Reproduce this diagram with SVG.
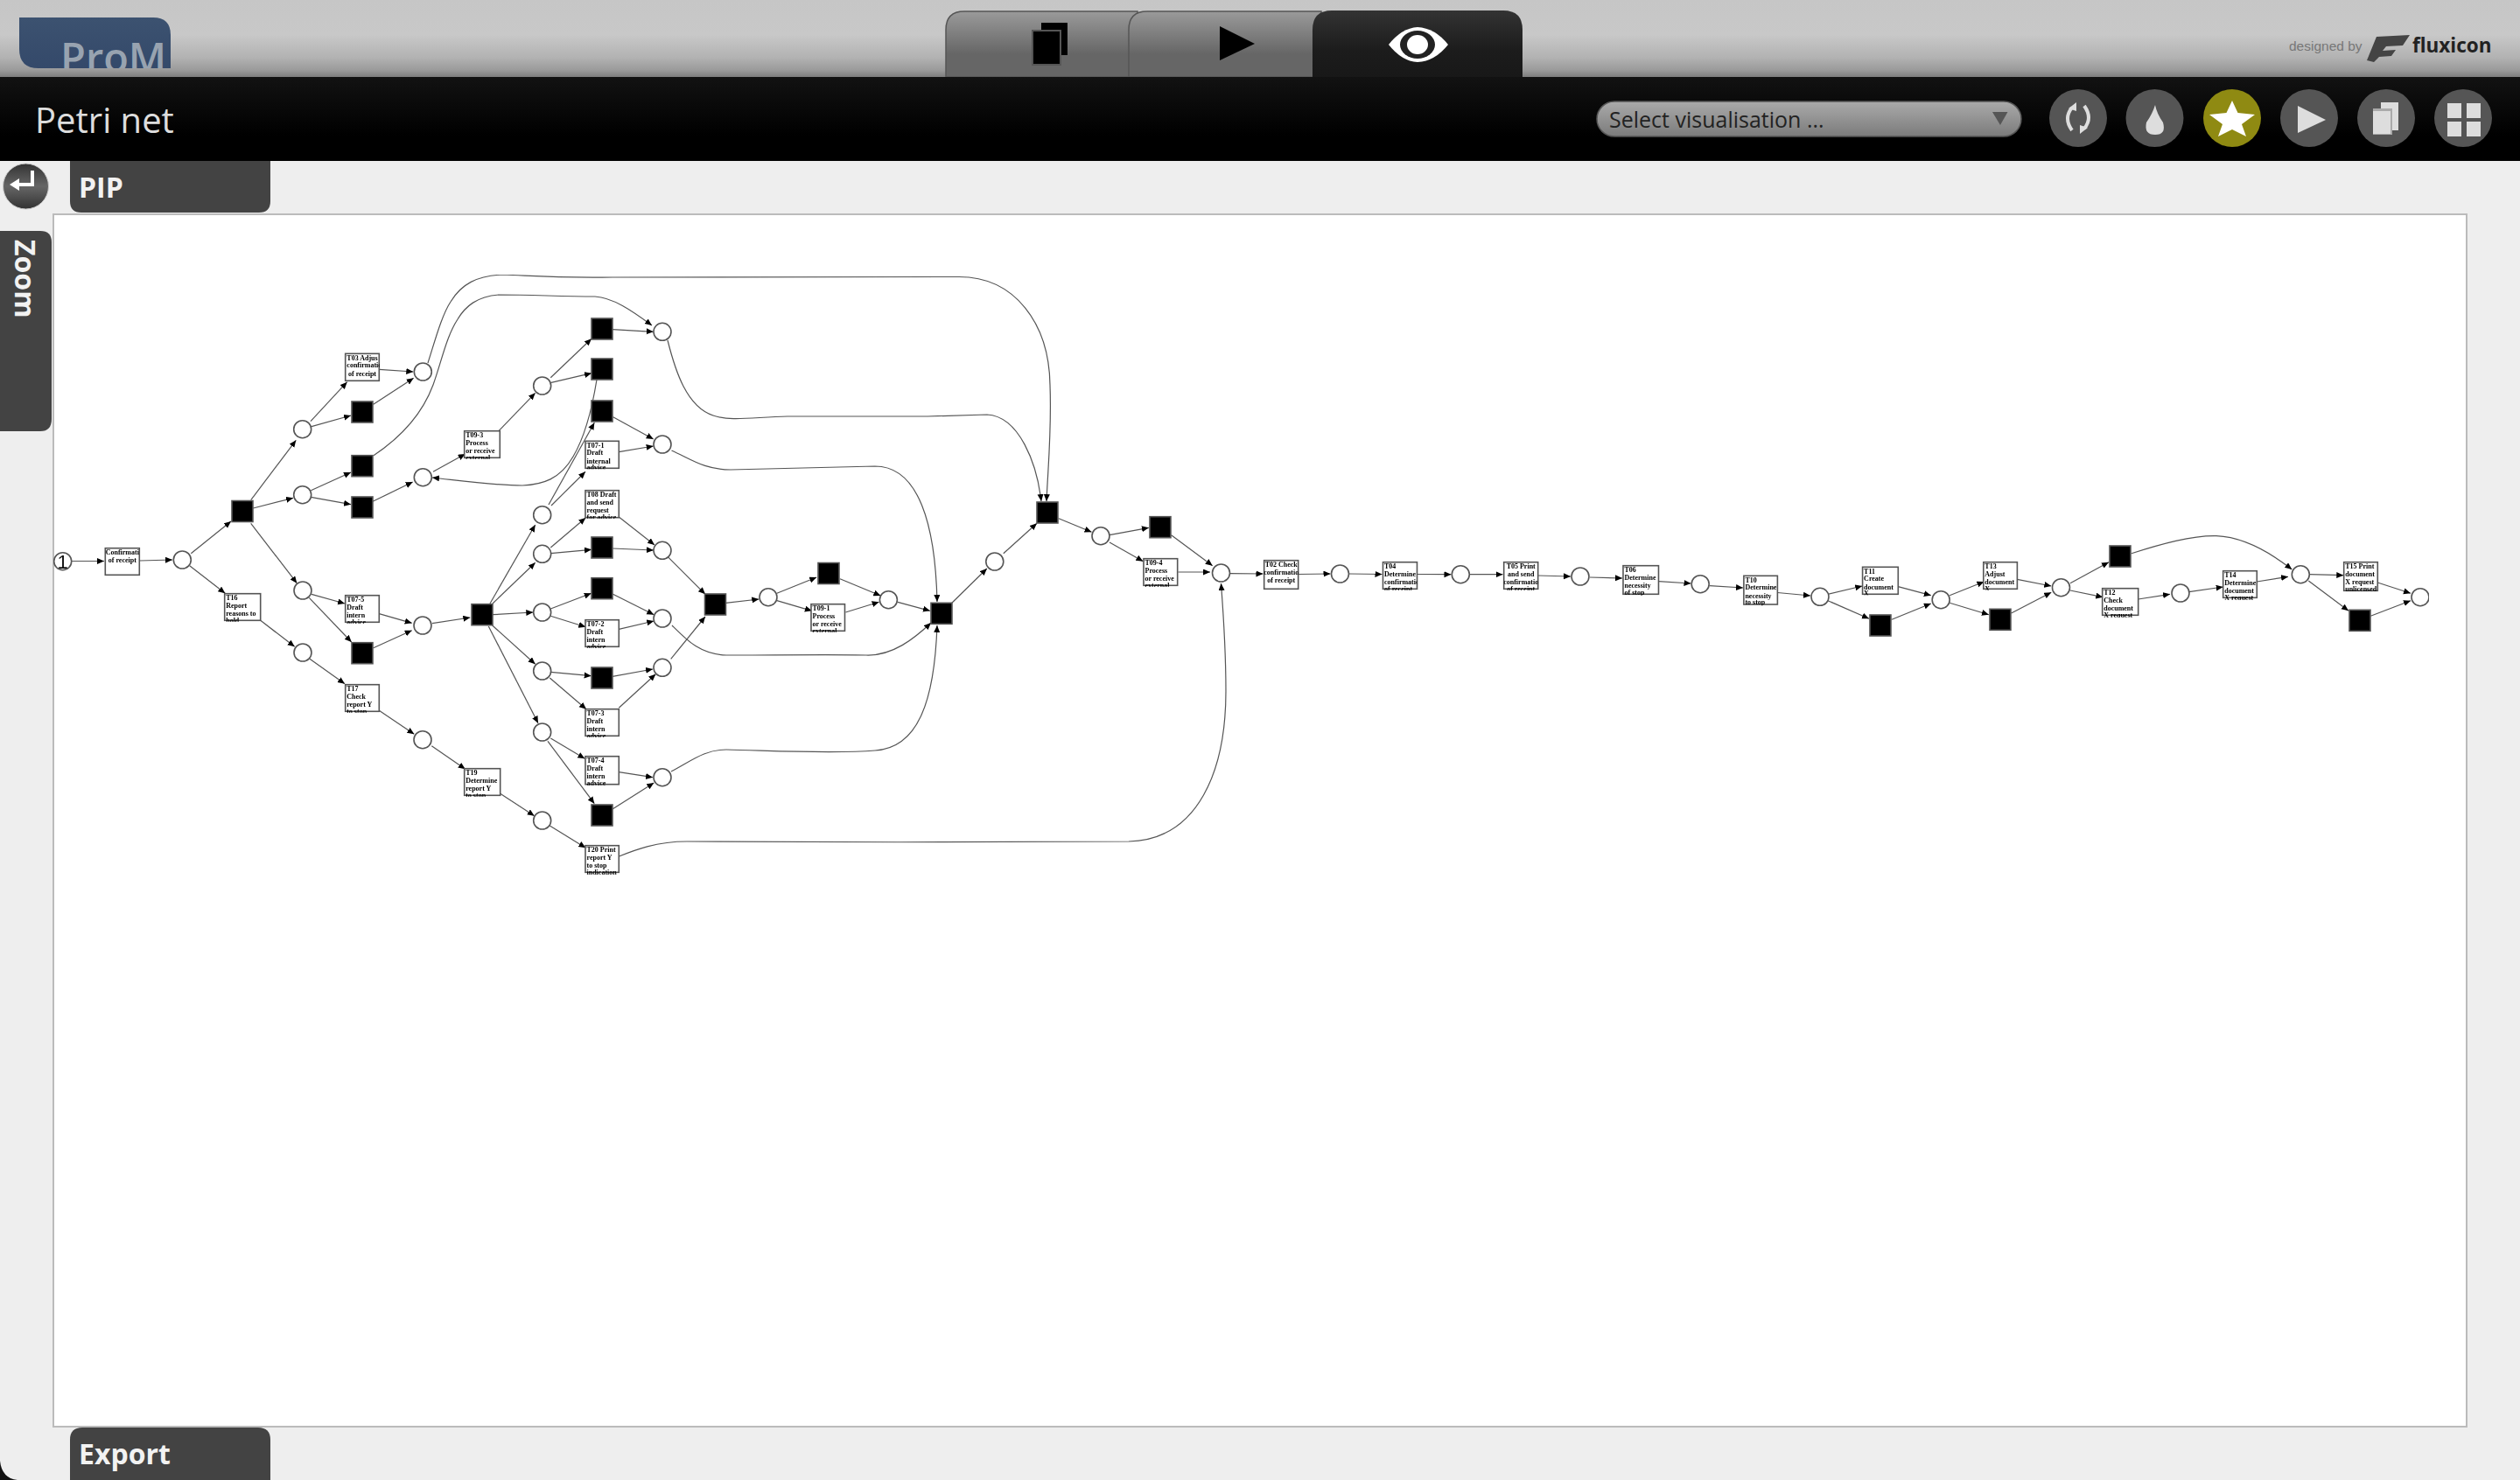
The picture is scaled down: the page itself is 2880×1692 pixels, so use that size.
<svg xmlns="http://www.w3.org/2000/svg" width="2880" height="1692" viewBox="0 0 2880 1692">
<style>
.ui{font-family:"Open Sans","Liberation Sans",sans-serif}
.tabt{font-size:32px;font-weight:700;fill:#f2f2f2}
.btn{fill:#555}
.ic{fill:#ddd}
.p{fill:#fff;stroke:#555;stroke-width:1.6}
.t{fill:#000;stroke:#555;stroke-width:1.6}
.b{fill:#fff;stroke:#555;stroke-width:1.6}
.e{fill:none;stroke:#555;stroke-width:1.2;marker-end:url(#ah)}
.l{font-family:"Liberation Serif",serif;font-size:8px;font-weight:700;fill:#000}
.c{text-anchor:middle}
</style>
<defs>
<marker id="ah" markerUnits="userSpaceOnUse" markerWidth="9" markerHeight="8" refX="8" refY="3.5" orient="auto" viewBox="0 0 9 8"><path d="M0,0 L8,3.5 L0,7 z" fill="#000"/></marker>
<linearGradient id="hd" x1="0" y1="0" x2="0" y2="1"><stop offset="0" stop-color="#c6c6c6"/><stop offset=".45" stop-color="#c8c8c8"/><stop offset=".75" stop-color="#b2b2b2"/><stop offset=".92" stop-color="#999"/><stop offset="1" stop-color="#7e7e7e"/></linearGradient>
<linearGradient id="bar" x1="0" y1="0" x2="0" y2="1"><stop offset="0" stop-color="#121212"/><stop offset=".7" stop-color="#000"/></linearGradient>
<linearGradient id="tabg" x1="0" y1="0" x2="0" y2="1"><stop offset="0" stop-color="#9a9a9a"/><stop offset=".65" stop-color="#666"/><stop offset="1" stop-color="#666"/></linearGradient>
<linearGradient id="tabd" x1="0" y1="0" x2="0" y2="1"><stop offset="0" stop-color="#333"/><stop offset=".6" stop-color="#1c1c1c"/><stop offset="1" stop-color="#181818"/></linearGradient>
<linearGradient id="sel" x1="0" y1="0" x2="0" y2="1"><stop offset="0" stop-color="#aaa"/><stop offset="1" stop-color="#7b7b7b"/></linearGradient>
<linearGradient id="ret" x1="0" y1="0" x2="0" y2="1"><stop offset="0" stop-color="#333"/><stop offset=".5" stop-color="#666"/><stop offset="1" stop-color="#333"/></linearGradient>
<linearGradient id="pm" x1="0" y1="0" x2="0" y2="1"><stop offset="0" stop-color="#3c5270"/><stop offset="1" stop-color="#34496a"/></linearGradient>
<clipPath id="pmc"><path d="M22,20 H175 Q195,20 195,40 V78 H44 Q22,78 22,56 z"/></clipPath>
<filter id="soft" x="0" y="0" width="1" height="1"><feGaussianBlur stdDeviation="0.35"/></filter>
</defs>

<rect width="2880" height="1692" fill="#eee"/>
<path d="M0,1670 Q2,1690 20,1692 H0 z" fill="#111"/>
<rect width="2880" height="88" fill="url(#hd)"/>
<g id="prom-logo"><path d="M22,20 H175 Q195,20 195,40 V78 H44 Q22,78 22,56 z" fill="url(#pm)"/>
<text class="ui" x="69" y="83" font-size="47" font-weight="600" fill="#98a3b0" clip-path="url(#pmc)">ProM</text></g>

<g id="main-tabs">
<path d="M1081,88 V34 Q1081,13 1102,13 H1300 V88 z" fill="url(#tabg)" stroke="#555" stroke-width="1.5"/>
<path d="M1290,88 V34 Q1290,13 1311,13 H1510 V88 z" fill="url(#tabg)" stroke="#555" stroke-width="1.5"/>
<path d="M1500,88 V34 Q1500,12 1522,12 H1718 Q1740,12 1740,34 V88 z" fill="url(#tabd)"/>
<rect x="1190" y="26" width="30" height="37" fill="#000"/>
<rect x="1180" y="35" width="32" height="39" fill="#000" stroke="#555" stroke-width="2"/>
<path d="M1394,30 L1434,50 L1394,69 z" fill="#000"/>
<path d="M1587,51 Q1602,32 1620,31 Q1640,32 1655,51 Q1640,70 1620,71 Q1602,70 1587,51 z" fill="#fff"/>
<ellipse cx="1620" cy="51" rx="20" ry="16" fill="#222"/>
<ellipse cx="1620" cy="51" rx="12" ry="11" fill="#fff"/>
</g>

<g id="fluxicon">
<text x="2616" y="58" font-family="Liberation Sans,sans-serif" font-size="15.500" fill="#777">designed by</text>
<path d="M2716,42 L2754,40 L2746,52 L2727,53 L2723,58 L2738,57 L2733,64 L2719,65 L2713,71 L2705,69 z" fill="#444"/>
<text x="2757" y="60" font-family="Open Sans,sans-serif" font-size="22.500" font-weight="700" fill="#222">fluxicon</text>
</g>

<rect y="88" width="2880" height="96" fill="url(#bar)"/>
<text class="ui" x="40" y="152" font-size="40" fill="#ddd">Petri net</text>

<g id="select">
<rect x="1825" y="116" width="485" height="40" rx="20" fill="url(#sel)" stroke="#555" stroke-width="1.5"/>
<text class="ui" x="1839" y="146" font-size="25" fill="#222">Select visualisation ...</text>
<path d="M2277,128 H2294.5 L2286,143 z" fill="#555"/>
</g>
<g id="btn-refresh"><circle class="btn" cx="2375" cy="135" r="33"/>
<path d="M2368,123 Q2358,135 2368,149 M2382,121 Q2392,135 2382,147" fill="none" stroke="#ddd" stroke-width="4"/>
<path d="M2364,124 L2373,117 L2373,127 z M2386,146 L2377,153 L2377,143 z" class="ic"/></g>
<g id="btn-drop"><circle class="btn" cx="2462.5" cy="135" r="33"/>
<path d="M2463,120 Q2465,130 2472,140 Q2476,154 2463,154 Q2450,154 2453,140 Q2460,130 2463,120 z" class="ic"/></g>
<g id="btn-star"><circle cx="2551" cy="135" r="33" fill="#8f8a12"/>
<path d="M2551,115 L2557.500,129 L2577,131 L2562,142 L2567,156 L2551,148 L2535,156 L2540,142 L2525,131 L2544.500,129 z" fill="#fff"/></g>
<g id="btn-play"><circle class="btn" cx="2639" cy="135" r="33"/><path d="M2626,121 L2658,137 L2626,152 z" class="ic"/></g>
<g id="btn-copy"><circle class="btn" cx="2727" cy="135" r="33"/>
<rect x="2721" y="117" width="20" height="32" class="ic"/><rect x="2712" y="124" width="22" height="30" fill="#aaa"/><rect x="2712" y="127" width="20" height="26" class="ic"/></g>
<g id="btn-grid"><circle class="btn" cx="2815" cy="135" r="33"/>
<rect x="2797" y="118" width="16" height="17" class="ic"/><rect x="2819" y="118" width="16" height="17" class="ic"/><rect x="2797" y="139" width="16" height="17" class="ic"/><rect x="2819" y="139" width="16" height="17" class="ic"/></g>

<g id="return"><ellipse cx="29.500" cy="213" rx="26" ry="26" fill="url(#ret)" stroke="#ccc"/>
<path d="M37,195 V211 H20" fill="none" stroke="#fff" stroke-width="4"/><path d="M11,211 L22,204 V218 z" fill="#fff"/></g>
<g id="pip-tab"><path d="M80,184 H309 V230 Q309,243 296,243 H93 Q80,243 80,230 z" fill="#434343"/>
<text class="ui tabt" x="90" y="226">PIP</text></g>
<g id="zoom-tab"><path d="M0,264 H46 Q59,264 59,277 V479 Q59,493 46,493 H0 z" fill="#434343"/>
<text class="ui tabt" transform="translate(17 274) rotate(90)">Zoom</text></g>
<g id="export-tab"><path d="M80,1692 V1646 Q80,1632 94,1632 H295 Q309,1632 309,1646 V1692 z" fill="#434343"/>
<text class="ui tabt" x="90" y="1674">Export</text></g>
<rect x="61" y="245" width="2758" height="1386" fill="#fff" stroke="#bbb" stroke-width="2"/>

<g id="graph" filter="url(#soft)">
<g id="connectors">
<path class="e" d="M82,641.500 L119,641.500"/>
<path class="e" d="M159.500,641 L197,640"/>
<path class="e" d="M218.300,632.700 L264,596"/>
<path class="e" d="M216.700,646.700 L257.300,678.300"/>
<path class="e" d="M286.700,571.700 L338.300,503.300"/>
<path class="e" d="M289.300,581 L335,569.300"/>
<path class="e" d="M286.700,598.300 L339.300,666.700"/>
<path class="e" d="M355,481.700 L396.700,436.700"/>
<path class="e" d="M356,487.700 L401,475"/>
<path class="e" d="M355.300,560.700 L401,540"/>
<path class="e" d="M355.300,568.300 L401,576.700"/>
<path class="e" d="M433.300,422.300 L472.300,425"/>
<path class="e" d="M426.700,462.300 L472.700,432.300"/>
<path class="e" d="M426,573.300 L471.700,551"/>
<path class="e" d="M495,539.300 L531.700,519"/>
<path class="e" d="M570,492.700 L611.700,449.300"/>
<path class="e" d="M629.300,431.700 L676,387.300"/>
<path class="e" d="M630,437.300 L676,426.700"/>
<path class="e" d="M700,376.700 L746.700,379.300"/>
<path class="e" d="M700.700,476.700 L746.700,502"/>
<path class="e" d="M707.300,516.700 L746.700,510"/>
<path class="e" d="M627,577 L679.300,483.300"/>
<path class="e" d="M630,578 L669,539.300"/>
<path class="e" d="M560,690 L611.700,600"/>
<path class="e" d="M563,690 L611.700,643.300"/>
<path class="e" d="M629.300,626 L669.300,592"/>
<path class="e" d="M629.300,632.700 L676,628.300"/>
<path class="e" d="M707.300,591 L748,623"/>
<path class="e" d="M700,627 L747,629"/>
<path class="e" d="M763.300,636.700 L806,679.300"/>
<path class="e" d="M829.300,689.300 L867.300,685"/>
<path class="e" d="M562.700,702.700 L609.300,700"/>
<path class="e" d="M562.700,715 L611.700,759.300"/>
<path class="e" d="M558.300,716 L615,826.700"/>
<path class="e" d="M629.300,696 L675.700,678.300"/>
<path class="e" d="M629.300,704.300 L669.300,716.700"/>
<path class="e" d="M700,679 L747.300,702.700"/>
<path class="e" d="M707.300,719.300 L747.300,710"/>
<path class="e" d="M629.300,768.300 L675.700,772.700"/>
<path class="e" d="M628.300,775 L670,810.700"/>
<path class="e" d="M700,773.300 L746,765"/>
<path class="e" d="M707.300,809.300 L749.300,770.700"/>
<path class="e" d="M766.700,753.300 L806,705"/>
<path class="e" d="M629.300,844 L668.300,867.300"/>
<path class="e" d="M626,847.300 L679.300,918.700"/>
<path class="e" d="M707.300,882.700 L746,888.700"/>
<path class="e" d="M700,925 L747.300,895"/>
<path class="e" d="M571.700,907.300 L610.700,932.700"/>
<path class="e" d="M628.300,944 L669.300,969.300"/>
<path class="e" d="M356,679.300 L394,690"/>
<path class="e" d="M353.300,683.300 L401.700,734"/>
<path class="e" d="M297.700,709.300 L336.700,739.300"/>
<path class="e" d="M354,753.300 L394,781.700"/>
<path class="e" d="M433.300,701.700 L470.700,712.300"/>
<path class="e" d="M426.700,740.700 L470.700,720.700"/>
<path class="e" d="M494,712.700 L537.300,706"/>
<path class="e" d="M433.300,812.300 L473.300,839.300"/>
<path class="e" d="M493.300,852.700 L531.700,879.300"/>
<path class="e" d="M887.900,678.300 L933.200,660"/>
<path class="e" d="M887.900,686.700 L927.900,698.300"/>
<path class="e" d="M960,661.700 L1006.400,681"/>
<path class="e" d="M966.400,700 L1004.600,688.300"/>
<path class="e" d="M1026,688.300 L1062.900,698.300"/>
<path class="e" d="M1087.900,689.300 L1127.900,650"/>
<path class="e" d="M1146.800,632.700 L1185,598.300"/>
<path class="e" d="M1210,592.700 L1247.500,608.300"/>
<path class="e" d="M1268,611.700 L1312.900,603.300"/>
<path class="e" d="M1268,620 L1306.400,641.700"/>
<path class="e" d="M1338.600,611.700 L1385.700,646.700"/>
<path class="e" d="M1346.400,654 L1383,654"/>
<path class="e" d="M1406,655.600 L1443.500,656"/>
<path class="e" d="M1483.700,656.500 L1520.500,656"/>
<path class="e" d="M1542,656 L1579.500,656.500"/>
<path class="e" d="M1619.600,656.500 L1658.500,656.700"/>
<path class="e" d="M1680,656.700 L1717.500,656.700"/>
<path class="e" d="M1757.700,658 L1795,659"/>
<path class="e" d="M1817,660 L1854,661"/>
<path class="e" d="M1895.500,664.700 L1932.500,667"/>
<path class="e" d="M1954,669.700 L1992,672"/>
<path class="e" d="M2031.400,677.500 L2069,681"/>
<path class="e" d="M2089,679.300 L2128.200,670"/>
<path class="e" d="M2089,686.700 L2136,707.300"/>
<path class="e" d="M2169.300,670.700 L2206.800,680.700"/>
<path class="e" d="M2162,708.300 L2206.800,690"/>
<path class="e" d="M2228.200,680.700 L2267.500,665"/>
<path class="e" d="M2228.200,689.300 L2272.900,702.700"/>
<path class="e" d="M2305.400,662.300 L2344.300,670"/>
<path class="e" d="M2298.600,701 L2344.300,677.300"/>
<path class="e" d="M2366,666.700 L2410,642.700"/>
<path class="e" d="M2366,675 L2403.300,682.700"/>
<path class="e" d="M2443.700,685 L2480,679.300"/>
<path class="e" d="M2501.700,676.700 L2540.700,671"/>
<path class="e" d="M2579.300,665 L2615,659.300"/>
<path class="e" d="M2436,632.700 C2470,622 2505,612 2533,612.700 C2565,614 2595,632 2619.300,651"/>
<path class="e" d="M2639.300,656.700 L2678.300,657.700"/>
<path class="e" d="M2638.300,664 L2684,698.300"/>
<path class="e" d="M2717.300,666 L2755,678.300"/>
<path class="e" d="M2709.300,704.300 L2755,686.700"/>
<path class="e" d="M427,520.700 C455,502 482,475 495,440 C505,412 510,385 523,365 C532,350 545,339 570,337 C610,337 640,339 680,339 C700,340 722,355 745,372"/>
<path class="e" d="M489,415 C497,390 505,360 515,345 C527,325 545,315 575,314 C620,316 640,318 700,317 L1095,316.500 C1160,316 1199,370 1200,440 C1202,490 1198,530 1196,573"/>
<path class="e" d="M763,389 C772,425 785,465 815,475 C835,482 860,477 900,476 L1060,476 L1128,474 C1165,476 1185,530 1190,573"/>
<path class="e" d="M767.500,515 C790,525 805,537 835,537 L1000,533 C1050,533 1069,600 1071,688"/>
<path class="e" d="M768,715 C785,732 800,748 830,749 C880,749 960,748 990,749 C1020,750 1045,730 1064,712"/>
<path class="e" d="M767,882 C790,870 805,857 830,857 C880,858 950,862 1000,858 C1050,855 1068,800 1071,715"/>
<path class="e" d="M707.500,979 C725,972 750,962 785,962 C900,963 1200,963 1290,962 C1370,960 1401,880 1401,790 C1401,740 1398,700 1395.500,667"/>
<path class="e" d="M682,434 C677,465 668,500 655,522 C640,548 620,554 597,555 C565,555 530,550 494,546"/>
</g>

<g id="n-p0"><circle class="p" cx="71.700" cy="641.700" r="10"/><text x="71.700" y="650" text-anchor="middle" font-family="Liberation Sans,sans-serif" font-size="22" fill="#111">1</text></g>
<g id="n-p1"><circle class="p" cx="208.300" cy="640" r="10"/></g>
<g id="n-pa"><circle class="p" cx="345.700" cy="490.700" r="10"/></g>
<g id="n-pb"><circle class="p" cx="345.700" cy="565.700" r="10"/></g>
<g id="n-pc"><circle class="p" cx="346" cy="675" r="10"/></g>
<g id="n-pd"><circle class="p" cx="346" cy="746" r="10"/></g>
<g id="n-pe"><circle class="p" cx="483.300" cy="425" r="10"/></g>
<g id="n-pf"><circle class="p" cx="483.300" cy="545.700" r="10"/></g>
<g id="n-pg"><circle class="p" cx="483" cy="715" r="10"/></g>
<g id="n-ph"><circle class="p" cx="483" cy="845.700" r="10"/></g>
<g id="n-pi"><circle class="p" cx="619.700" cy="441" r="10"/></g>
<g id="n-pj"><circle class="p" cx="619.700" cy="588.700" r="10"/></g>
<g id="n-pk"><circle class="p" cx="619.700" cy="633.300" r="10"/></g>
<g id="n-pl"><circle class="p" cx="619.700" cy="700" r="10"/></g>
<g id="n-pm"><circle class="p" cx="619.700" cy="767" r="10"/></g>
<g id="n-pn"><circle class="p" cx="619.700" cy="837" r="10"/></g>
<g id="n-po"><circle class="p" cx="619.700" cy="938" r="10"/></g>
<g id="n-pq"><circle class="p" cx="757" cy="379.300" r="10"/></g>
<g id="n-pr"><circle class="p" cx="757" cy="508" r="10"/></g>
<g id="n-ps"><circle class="p" cx="757" cy="629.300" r="10"/></g>
<g id="n-pt"><circle class="p" cx="757" cy="707" r="10"/></g>
<g id="n-pu"><circle class="p" cx="757" cy="763.300" r="10"/></g>
<g id="n-pv"><circle class="p" cx="757" cy="888.700" r="10"/></g>
<g id="n-pw"><circle class="p" cx="878" cy="682.700" r="10"/></g>
<g id="n-px"><circle class="p" cx="1015.400" cy="685.700" r="10"/></g>
<g id="n-py"><circle class="p" cx="1136.800" cy="642" r="10"/></g>
<g id="n-pz"><circle class="p" cx="1258" cy="612.700" r="10"/></g>
<g id="n-p2"><circle class="p" cx="1395.500" cy="655" r="10"/></g>
<g id="n-p3"><circle class="p" cx="1531.500" cy="656" r="10"/></g>
<g id="n-p4"><circle class="p" cx="1669.300" cy="656.700" r="10"/></g>
<g id="n-p5"><circle class="p" cx="1806" cy="659" r="10"/></g>
<g id="n-p6"><circle class="p" cx="1943.200" cy="667.700" r="10"/></g>
<g id="n-p7"><circle class="p" cx="2080" cy="682.300" r="10"/></g>
<g id="n-p8"><circle class="p" cx="2218.200" cy="685.700" r="10"/></g>
<g id="n-p9"><circle class="p" cx="2355.500" cy="671.700" r="10"/></g>
<g id="n-p10"><circle class="p" cx="2492" cy="678" r="10"/></g>
<g id="n-p11"><circle class="p" cx="2629.300" cy="656.700" r="10"/></g>
<g id="n-p12"><circle class="p" cx="2766" cy="682.700" r="10"/></g>

<g id="n-t1"><rect class="t" x="265" y="572.500" width="24" height="24"/></g>
<g id="n-t2"><rect class="t" x="402" y="459" width="24" height="24"/></g>
<g id="n-t3"><rect class="t" x="402" y="520.700" width="24" height="24"/></g>
<g id="n-t4"><rect class="t" x="402" y="568" width="24" height="24"/></g>
<g id="n-t5"><rect class="t" x="402" y="734.700" width="24" height="24"/></g>
<g id="n-t6"><rect class="t" x="539" y="690.700" width="24" height="24"/></g>
<g id="n-t7"><rect class="t" x="676" y="364" width="24" height="24"/></g>
<g id="n-t8"><rect class="t" x="676" y="410" width="24" height="24"/></g>
<g id="n-t9"><rect class="t" x="676" y="458" width="24" height="24"/></g>
<g id="n-t10"><rect class="t" x="676" y="614" width="24" height="24"/></g>
<g id="n-t11"><rect class="t" x="676" y="660.700" width="24" height="24"/></g>
<g id="n-t12"><rect class="t" x="676" y="763" width="24" height="24"/></g>
<g id="n-t13"><rect class="t" x="676" y="920" width="24" height="24"/></g>
<g id="n-t14"><rect class="t" x="805.500" y="679" width="24" height="24"/></g>
<g id="n-t15"><rect class="t" x="935" y="643.500" width="24" height="24"/></g>
<g id="n-t16"><rect class="t" x="1064" y="689.300" width="24" height="24"/></g>
<g id="n-t17"><rect class="t" x="1185" y="574" width="24" height="24"/></g>
<g id="n-t18"><rect class="t" x="1314" y="590.700" width="24" height="24"/></g>
<g id="n-t19"><rect class="t" x="2137" y="703" width="24" height="24"/></g>
<g id="n-t20"><rect class="t" x="2274" y="696.300" width="24" height="24"/></g>
<g id="n-t21"><rect class="t" x="2411" y="624" width="24" height="24"/></g>
<g id="n-t22"><rect class="t" x="2685" y="697.300" width="24" height="24"/></g>

<g id="n-b0" transform="translate(120.300 626.700)"><rect class="b" width="39" height="30.600"/><svg width="39" height="32"><text class="l c"><tspan x="19.500" y="7.500">Confirmati</tspan><tspan x="19.500" y="16">of receipt</tspan></text></svg></g>
<g id="n-b1" transform="translate(256.700 678.700)"><rect class="b" width="41" height="30.600"/><svg width="41" height="32"><text class="l"><tspan x="1.500" y="7.500">T16</tspan><tspan x="1.500" y="16">Report</tspan><tspan x="1.500" y="25.500">reasons to</tspan><tspan x="1.500" y="33">hold</tspan></text></svg></g>
<g id="n-b2" transform="translate(394.700 404.300)"><rect class="b" width="38.600" height="31"/><svg width="39" height="32"><text class="l c"><tspan x="19.300" y="7.500">T03 Adjus</tspan><tspan x="19.300" y="16">t confirmatio</tspan><tspan x="19.300" y="25.500">of receipt</tspan></text></svg></g>
<g id="n-b3" transform="translate(394.700 680.700)"><rect class="b" width="38.600" height="30.600"/><svg width="39" height="32"><text class="l"><tspan x="1.500" y="7.500">T07-5</tspan><tspan x="1.500" y="16">Draft</tspan><tspan x="1.500" y="25.500">intern</tspan><tspan x="1.500" y="33">advice</tspan></text></svg></g>
<g id="n-b4" transform="translate(394.700 782.700)"><rect class="b" width="38.600" height="30.600"/><svg width="39" height="32"><text class="l"><tspan x="1.500" y="7.500">T17</tspan><tspan x="1.500" y="16">Check</tspan><tspan x="1.500" y="25.500">report Y</tspan><tspan x="1.500" y="33">to stop</tspan></text></svg></g>
<g id="n-b5" transform="translate(530.700 492.700)"><rect class="b" width="40.600" height="30.600"/><svg width="41" height="32"><text class="l"><tspan x="1.500" y="7.500">T09-3</tspan><tspan x="1.500" y="16">Process</tspan><tspan x="1.500" y="25.500">or receive</tspan><tspan x="1.500" y="33">external</tspan></text></svg></g>
<g id="n-b6" transform="translate(530.700 878.700)"><rect class="b" width="41" height="30.600"/><svg width="41" height="32"><text class="l"><tspan x="1.500" y="7.500">T19</tspan><tspan x="1.500" y="16">Determine</tspan><tspan x="1.500" y="25.500">report Y</tspan><tspan x="1.500" y="33">to stop</tspan></text></svg></g>
<g id="n-b7" transform="translate(669 504.300)"><rect class="b" width="38.300" height="31"/><svg width="39" height="32"><text class="l"><tspan x="1.500" y="7.500">T07-1</tspan><tspan x="1.500" y="16">Draft</tspan><tspan x="1.500" y="25.500">internal</tspan><tspan x="1.500" y="33">advice</tspan></text></svg></g>
<g id="n-b8" transform="translate(669 560.700)"><rect class="b" width="38.300" height="31"/><svg width="39" height="32"><text class="l"><tspan x="1.500" y="7.500">T08 Draft</tspan><tspan x="1.500" y="16">and send</tspan><tspan x="1.500" y="25.500">request</tspan><tspan x="1.500" y="33">for advice</tspan></text></svg></g>
<g id="n-b9" transform="translate(669 708.700)"><rect class="b" width="38.300" height="30.600"/><svg width="39" height="32"><text class="l"><tspan x="1.500" y="7.500">T07-2</tspan><tspan x="1.500" y="16">Draft</tspan><tspan x="1.500" y="25.500">intern</tspan><tspan x="1.500" y="33">advice</tspan></text></svg></g>
<g id="n-b10" transform="translate(669 810.700)"><rect class="b" width="38.300" height="30.600"/><svg width="39" height="32"><text class="l"><tspan x="1.500" y="7.500">T07-3</tspan><tspan x="1.500" y="16">Draft</tspan><tspan x="1.500" y="25.500">intern</tspan><tspan x="1.500" y="33">advice</tspan></text></svg></g>
<g id="n-b11" transform="translate(669 864.700)"><rect class="b" width="38.300" height="32"/><svg width="39" height="33"><text class="l"><tspan x="1.500" y="7.500">T07-4</tspan><tspan x="1.500" y="16">Draft</tspan><tspan x="1.500" y="25.500">intern</tspan><tspan x="1.500" y="33">advice</tspan></text></svg></g>
<g id="n-b12" transform="translate(669 966.700)"><rect class="b" width="38.300" height="30.600"/><svg width="39" height="33"><text class="l"><tspan x="1.500" y="7.500">T20 Print</tspan><tspan x="1.500" y="16">report Y</tspan><tspan x="1.500" y="25.500">to stop</tspan><tspan x="1.500" y="33">indication</tspan></text></svg></g>
<g id="n-b13" transform="translate(927 690.700)"><rect class="b" width="38.500" height="30.600"/><svg width="39" height="32"><text class="l"><tspan x="1.500" y="7.500">T09-1</tspan><tspan x="1.500" y="16">Process</tspan><tspan x="1.500" y="25.500">or receive</tspan><tspan x="1.500" y="33">external</tspan></text></svg></g>
<g id="n-b14" transform="translate(1307 638.700)"><rect class="b" width="38.700" height="30.600"/><svg width="39" height="32"><text class="l"><tspan x="1.500" y="7.500">T09-4</tspan><tspan x="1.500" y="16">Process</tspan><tspan x="1.500" y="25.500">or receive</tspan><tspan x="1.500" y="33">external</tspan></text></svg></g>
<g id="n-b15" transform="translate(1444.700 640.700)"><rect class="b" width="39" height="32.600"/><svg width="39" height="33"><text class="l c"><tspan x="19.500" y="7.500">T02 Check</tspan><tspan x="19.500" y="16">confirmatio</tspan><tspan x="19.500" y="25.500">of receipt</tspan></text></svg></g>
<g id="n-b16" transform="translate(1580.500 642.700)"><rect class="b" width="39" height="30.600"/><svg width="39" height="32"><text class="l"><tspan x="1.500" y="7.500">T04</tspan><tspan x="1.500" y="16">Determine</tspan><tspan x="1.500" y="25.500">confirmatio</tspan><tspan x="1.500" y="33">of receipt</tspan></text></svg></g>
<g id="n-b17" transform="translate(1718.700 642.700)"><rect class="b" width="39" height="30.600"/><svg width="39" height="32"><text class="l c"><tspan x="19.500" y="7.500">T05 Print</tspan><tspan x="19.500" y="16">and send</tspan><tspan x="19.500" y="25.500">confirmatio</tspan><tspan x="19.500" y="33">of receipt</tspan></text></svg></g>
<g id="n-b18" transform="translate(1855 646.700)"><rect class="b" width="40.500" height="32.600"/><svg width="41" height="34"><text class="l"><tspan x="1.500" y="7.500">T06</tspan><tspan x="1.500" y="16">Determine</tspan><tspan x="1.500" y="25.500">necessity</tspan><tspan x="1.500" y="33">of stop</tspan></text></svg></g>
<g id="n-b19" transform="translate(1992.900 658.300)"><rect class="b" width="38.500" height="32.700"/><svg width="39" height="34"><text class="l"><tspan x="1.500" y="7.500">T10</tspan><tspan x="1.500" y="16">Determine</tspan><tspan x="1.500" y="25.500">necessity</tspan><tspan x="1.500" y="33">to stop</tspan></text></svg></g>
<g id="n-b20" transform="translate(2128.600 648.300)"><rect class="b" width="40.700" height="31"/><svg width="41" height="32"><text class="l"><tspan x="1.500" y="7.500">T11</tspan><tspan x="1.500" y="16">Create</tspan><tspan x="1.500" y="25.500">document</tspan><tspan x="1.500" y="33">X</tspan></text></svg></g>
<g id="n-b21" transform="translate(2266.800 642.700)"><rect class="b" width="38.600" height="30.600"/><svg width="39" height="32"><text class="l"><tspan x="1.500" y="7.500">T13</tspan><tspan x="1.500" y="16">Adjust</tspan><tspan x="1.500" y="25.500">document</tspan><tspan x="1.500" y="33">X</tspan></text></svg></g>
<g id="n-b22" transform="translate(2402.700 672.700)"><rect class="b" width="41" height="30.600"/><svg width="41" height="33"><text class="l"><tspan x="1.500" y="7.500">T12</tspan><tspan x="1.500" y="16">Check</tspan><tspan x="1.500" y="25.500">document</tspan><tspan x="1.500" y="33">X request</tspan></text></svg></g>
<g id="n-b23" transform="translate(2540.700 652.700)"><rect class="b" width="38.600" height="30.600"/><svg width="39" height="33"><text class="l"><tspan x="1.500" y="7.500">T14</tspan><tspan x="1.500" y="16">Determine</tspan><tspan x="1.500" y="25.500">document</tspan><tspan x="1.500" y="33">X request</tspan></text></svg></g>
<g id="n-b24" transform="translate(2678.700 642.700)"><rect class="b" width="38.600" height="32.600"/><svg width="39" height="34"><text class="l"><tspan x="1.500" y="7.500">T15 Print</tspan><tspan x="1.500" y="16">document</tspan><tspan x="1.500" y="25.500">X request</tspan><tspan x="1.500" y="33">unlicensed</tspan></text></svg></g>
</g>
</svg>
